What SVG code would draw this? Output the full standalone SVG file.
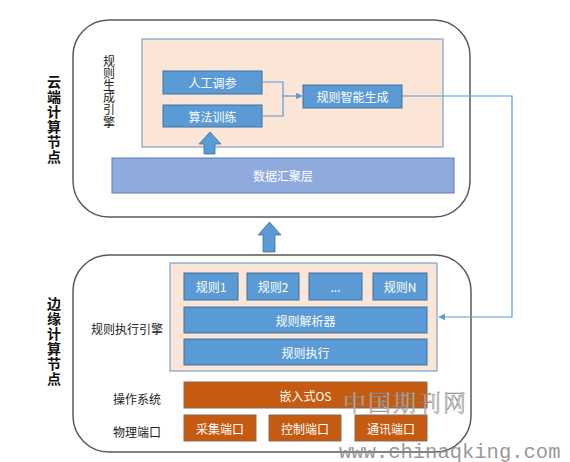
<svg xmlns="http://www.w3.org/2000/svg" width="570" height="462" viewBox="0 0 570 462">
<style>
.outer{fill:#fff;stroke:#595959;stroke-width:1.5}
.peach{fill:#fbe5d6;stroke:#7f9fc6;stroke-width:1.2}
.blue{fill:#5b9bd5;stroke:#41719c;stroke-width:1}
.agg{fill:#8faadc;stroke:#5a7fb5;stroke-width:1}
.org{fill:#c55a11;stroke:#8b6a55;stroke-width:1}
.wt{font-family:"Noto Sans CJK SC","Liberation Sans",sans-serif;font-size:12px;fill:#fff;text-anchor:middle;dominant-baseline:central}
.lbl{font-family:"Noto Sans CJK SC","Liberation Sans",sans-serif;font-size:12px;fill:#222;text-anchor:middle;dominant-baseline:central}
.vt{font-family:"Noto Sans CJK SC","Liberation Sans",sans-serif;font-size:14px;font-weight:bold;fill:#111;writing-mode:vertical-rl;letter-spacing:1px}
.vs{font-family:"Noto Sans CJK SC","Liberation Sans",sans-serif;font-size:12px;fill:#222;writing-mode:vertical-rl;letter-spacing:0.2px}
.conn{fill:none;stroke:#5b9bd5;stroke-width:1.2}
.barrow{fill:#5b9bd5;stroke:#41719c;stroke-width:0.8}
</style>
<defs>
<marker id="ah" viewBox="0 0 10 10" refX="9" refY="5" markerWidth="7" markerHeight="7" orient="auto" markerUnits="userSpaceOnUse">
<path d="M0,0 L10,5 L0,10 z" fill="#5b9bd5"/>
</marker>
</defs>
<rect width="570" height="462" fill="#fff"/>

<g id="cloud-node">
<rect class="outer" x="73" y="20" width="397" height="197" rx="36" ry="36"/>
<text class="vt" x="54" y="75">云端计算节点</text>
</g>

<g id="rule-gen-engine">
<rect class="peach" x="142" y="39" width="301" height="108"/>
<text class="vs" x="109" y="55">规则生成引擎</text>
</g>

<g id="manual-tune">
<rect class="blue" x="163" y="71" width="99" height="23"/>
<text class="wt" x="212.5" y="82.5">人工调参</text>
</g>
<g id="algo-train">
<rect class="blue" x="163" y="105" width="99" height="22"/>
<text class="wt" x="212.5" y="116">算法训练</text>
</g>
<g id="rule-smart-gen">
<rect class="blue" x="303" y="85" width="99" height="23"/>
<text class="wt" x="352.5" y="96.5">规则智能生成</text>
</g>

<g id="data-agg">
<rect class="agg" x="112" y="158" width="342" height="35"/>
<text class="wt" x="283" y="175.5">数据汇聚层</text>
</g>

<g id="edge-node">
<rect class="outer" x="73" y="255" width="398" height="197" rx="36" ry="36"/>
<text class="vt" x="54" y="297">边缘计算节点</text>
<text class="lbl" x="127" y="328">规则执行引擎</text>
<text class="lbl" x="137" y="398">操作系统</text>
<text class="lbl" x="137" y="431">物理端口</text>
</g>

<g id="rule-exec-engine">
<rect class="peach" x="170" y="263" width="267" height="108"/>
</g>
<g id="rule1"><rect class="blue" x="184" y="273" width="54" height="27"/><text class="wt" x="211" y="286.5">规则1</text></g>
<g id="rule2"><rect class="blue" x="247" y="273" width="52" height="27"/><text class="wt" x="273" y="286.5">规则2</text></g>
<g id="rule-dots"><rect class="blue" x="309" y="273" width="53" height="27"/><text class="wt" x="335.5" y="286.5">...</text></g>
<g id="ruleN"><rect class="blue" x="373" y="273" width="54" height="27"/><text class="wt" x="400" y="286.5">规则N</text></g>
<g id="rule-parser"><rect class="blue" x="184" y="307" width="243" height="26"/><text class="wt" x="305.5" y="320">规则解析器</text></g>
<g id="rule-exec"><rect class="blue" x="184" y="339" width="243" height="26"/><text class="wt" x="305.5" y="352">规则执行</text></g>
<g id="embedded-os"><rect class="org" x="184" y="382" width="243" height="26"/><text class="wt" x="305.5" y="395">嵌入式OS</text></g>
<g id="collect-port"><rect class="org" x="184" y="415" width="72" height="26"/><text class="wt" x="220" y="428">采集端口</text></g>
<g id="control-port"><rect class="org" x="269" y="415" width="72" height="26"/><text class="wt" x="305" y="428">控制端口</text></g>
<g id="comm-port"><rect class="org" x="355" y="415" width="72" height="26"/><text class="wt" x="391" y="428">通讯端口</text></g>

<g id="connectors">
<polyline class="conn" points="262,82 283,82 283,116 262,116"/>
<line class="conn" x1="283" y1="96" x2="302" y2="96" marker-end="url(#ah)"/>
<polyline class="conn" points="402,96 512,96 512,317 439,317" marker-end="url(#ah)"/>
<path class="barrow" d="M204,154 L204,144 L199,144 L210,132 L221,144 L215,144 L215,154 Z"/>
<path class="barrow" d="M263,252 L263,235 L258,235 L269.5,222 L281,235 L275,235 L275,252 Z"/>
</g>

<g id="watermark" opacity="0.85">
<text x="343" y="411" font-family="'Noto Serif CJK SC','Noto Sans CJK SC',serif" font-size="23" font-weight="300" fill="#fff" stroke="#888" stroke-width="0.7" letter-spacing="2">中国期刊网</text>
<text x="339" y="458" font-family="'Liberation Mono',monospace" font-size="20.5" fill="#888">www.chinaqking.com</text>
</g>
</svg>
